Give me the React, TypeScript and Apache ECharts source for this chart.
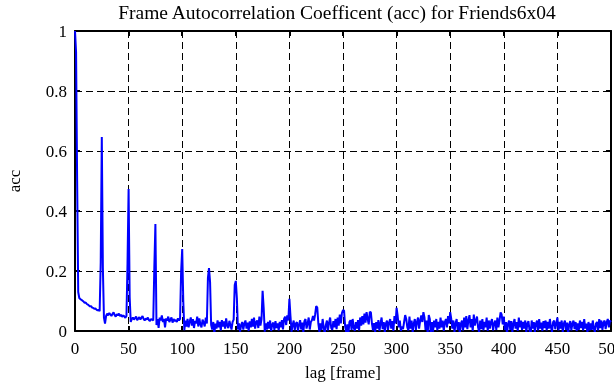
import React, { useEffect, useRef } from "react";
import * as echarts from "echarts";

const TITLE = "Frame Autocorrelation Coefficent (acc) for Friends6x04";
const X_NAME = "lag [frame]";
const Y_NAME = "acc";
const X_MIN = 0;
const X_MAX = 500;
const X_STEP = 50;
const Y_MIN = 0;
const Y_MAX = 1;
const Y_STEP = 0.2;

// acc values, index = lag in frames
const acc000 = [
  1.0, 0.93, 0.5, 0.13, 0.11, 0.106, 0.104, 0.101, 0.098, 0.094, 0.095, 0.09, 0.088, 0.085, 0.082, 0.083, 0.078, 0.077, 0.074, 0.075, 0.071, 0.069, 0.07, 0.066, 0.23,
  0.647, 0.21, 0.045, 0.025, 0.05, 0.058, 0.052, 0.06, 0.055, 0.05, 0.057, 0.062, 0.053, 0.048, 0.056, 0.052, 0.058, 0.05, 0.054, 0.047, 0.052, 0.049, 0.044, 0.05, 0.227,
  0.473, 0.113, 0.03, 0.04, 0.045, 0.038, 0.043, 0.048, 0.036, 0.041, 0.046, 0.038, 0.044, 0.05, 0.04, 0.035, 0.042, 0.038, 0.045, 0.036, 0.033, 0.04, 0.038, 0.035, 0.213,
  0.357, 0.02, 0.04, 0.01, 0.045, 0.035, 0.052, 0.03, 0.04, 0.012, 0.042, 0.035, 0.048, 0.03, 0.038, 0.045, 0.028, 0.04, 0.033, 0.037, 0.03, 0.042, 0.035, 0.04, 0.198,
];
const acc100 = [
  0.273, 0.1, 0.003, 0.035, 0.015, 0.04, 0.012, 0.032, 0.045, 0.018, 0.04, 0.01, 0.034, 0.025, 0.048, 0.015, 0.042, 0.022, 0.012, 0.038, 0.028, 0.015, 0.045, 0.025, 0.177,
  0.21, 0.163, 0.02, 0.005, 0.03, -0.008, 0.025, 0.008, 0.035, 0.012, 0.03, 0.002, 0.036, 0.015, 0.032, 0.008, 0.042, 0.018, 0.01, 0.034, 0.02, 0.005, 0.03, 0.038, 0.153,
  0.167, 0.11, 0.005, 0.025, -0.002, 0.02, 0.03, 0.005, 0.025, 0.035, 0.008, 0.028, 0.0, 0.032, 0.012, 0.04, 0.015, 0.045, 0.008, 0.03, 0.035, 0.01, 0.048, 0.018, 0.04,
  0.134, 0.077, -0.002, 0.025, 0.005, 0.03, 0.008, 0.035, 0.0, 0.022, 0.028, 0.004, 0.033, 0.01, 0.025, 0.002, 0.03, 0.012, 0.036, 0.005, 0.04, 0.048, 0.02, 0.052, 0.035,
];
const acc200 = [
  0.107, 0.05, -0.002, 0.02, 0.035, 0.003, 0.025, 0.03, 0.0, 0.022, 0.036, 0.005, 0.028, -0.004, 0.033, 0.04, 0.008, 0.025, 0.045, 0.005, 0.03, 0.036, 0.05, 0.035, 0.055,
  0.083, 0.078, 0.025, -0.003, 0.025, 0.004, 0.04, 0.012, -0.008, 0.02, 0.035, 0.002, 0.028, 0.045, 0.01, 0.004, 0.033, 0.012, 0.04, 0.006, 0.045, 0.018, 0.055, 0.025, 0.06,
  0.07, 0.068, 0.015, -0.004, 0.022, -0.012, 0.03, 0.036, 0.004, 0.04, 0.012, 0.0, 0.03, 0.008, 0.036, 0.002, 0.045, 0.018, 0.05, 0.022, 0.058, 0.028, 0.063, 0.04, 0.022,
  0.064, 0.062, 0.025, 0.002, 0.026, -0.004, 0.03, 0.008, 0.036, 0.0, 0.025, 0.045, 0.006, 0.03, -0.005, 0.025, 0.035, 0.004, 0.028, 0.04, 0.008, 0.033, 0.0, 0.05, 0.025,
];
const acc300 = [
  0.077, 0.05, 0.012, 0.035, 0.0, 0.015, 0.006, 0.03, 0.053, 0.04, 0.012, 0.002, 0.048, 0.008, 0.035, -0.004, 0.025, 0.04, 0.004, 0.03, 0.045, 0.008, 0.035, 0.052, 0.03,
  0.063, 0.045, 0.004, 0.035, -0.01, 0.053, 0.04, -0.017, 0.03, -0.002, 0.035, 0.012, 0.04, 0.002, 0.03, 0.008, 0.045, 0.012, 0.035, 0.0, 0.03, 0.04, 0.012, 0.05, 0.025,
  0.063, 0.04, 0.008, 0.035, -0.003, 0.025, 0.04, 0.004, 0.03, -0.01, 0.025, 0.035, 0.002, 0.045, 0.012, 0.05, 0.006, 0.035, 0.053, 0.012, 0.04, 0.0, 0.055, 0.018, 0.035,
  0.048, 0.012, -0.004, 0.035, 0.006, 0.04, 0.002, 0.03, 0.012, 0.045, 0.0, 0.035, 0.008, 0.03, 0.04, 0.002, 0.025, 0.035, 0.004, 0.045, 0.012, 0.035, 0.062, 0.055, 0.022,
];
const acc400 = [
  0.048, 0.004, 0.03, -0.01, 0.025, 0.035, 0.004, 0.033, -0.003, 0.025, 0.04, 0.008, 0.03, 0.0, 0.045, 0.012, 0.035, 0.004, 0.03, 0.008, 0.035, -0.004, 0.025, 0.033, 0.002,
  -0.015, 0.035, 0.008, 0.03, -0.004, 0.025, 0.035, 0.002, 0.04, 0.008, 0.028, 0.0, 0.033, 0.01, 0.035, 0.002, 0.03, 0.008, 0.04, 0.012, -0.003, 0.03, 0.035, 0.006, 0.025,
  0.045, 0.002, 0.03, 0.008, 0.035, -0.004, 0.025, 0.035, 0.004, 0.028, -0.01, 0.022, 0.033, 0.002, 0.025, 0.035, 0.006, 0.03, 0.0, 0.025, 0.004, 0.035, 0.01, 0.03, 0.002,
  0.04, 0.008, 0.025, -0.004, 0.03, 0.002, 0.025, 0.004, 0.035, 0.008, -0.003, 0.025, 0.03, 0.002, 0.04, 0.01, 0.035, 0.004, 0.028, 0.035, 0.006, 0.03, 0.04, 0.012, 0.035,
];
const acc500 = [0.03];

const FONT = "'Liberation Serif', 'Times New Roman', serif";

export default function App() {
  const ref = useRef<HTMLDivElement>(null);
  useEffect(() => {
    const chart = echarts.init(ref.current as HTMLDivElement, undefined, { renderer: "svg" });
    const values = [...acc000, ...acc100, ...acc200, ...acc300, ...acc400, ...acc500];
    const data = values.map((v, i) => [i, v]);
    const axisLine = { show: true, onZero: false, lineStyle: { color: "#000", width: 2 } };
    const axisTick = { show: true, inside: true, length: 5, lineStyle: { color: "#000", width: 2 } };
    const splitLine = { show: true, lineStyle: { color: "#000", width: 1, type: [7, 4] } };
    const labelStyle = { color: "#000", fontFamily: FONT, fontSize: 17 };
    chart.setOption({
      animation: false,
      graphic: [
        {
          type: "text",
          x: 337,
          y: 12,
          style: {
            text: TITLE,
            fill: "#000",
            font: `19.5px ${FONT}`,
            textAlign: "center",
            textVerticalAlign: "middle",
          },
        },
      ],
      grid: { left: 75, right: 3, top: 31, bottom: 54, containLabel: false, outerBoundsMode: "none" },
      xAxis: [
        {
          type: "value",
          min: X_MIN,
          max: X_MAX,
          interval: X_STEP,
          position: "bottom",
          axisLine,
          axisTick,
          splitLine,
          axisLabel: { ...labelStyle, margin: 9, showMinLabel: true, showMaxLabel: true },
          name: X_NAME,
          nameLocation: "middle",
          nameGap: 33,
          nameTextStyle: labelStyle,
        },
        {
          type: "value",
          min: X_MIN,
          max: X_MAX,
          interval: X_STEP,
          position: "top",
          axisLine,
          axisTick,
          splitLine: { show: false },
          axisLabel: { show: false },
        },
      ],
      yAxis: [
        {
          type: "value",
          min: Y_MIN,
          max: Y_MAX,
          interval: Y_STEP,
          position: "left",
          axisLine,
          axisTick,
          splitLine,
          axisLabel: { ...labelStyle, margin: 8 },
          name: Y_NAME,
          nameLocation: "middle",
          nameRotate: 90,
          nameGap: 52,
          nameTextStyle: labelStyle,
        },
        {
          type: "value",
          min: Y_MIN,
          max: Y_MAX,
          interval: Y_STEP,
          position: "right",
          axisLine,
          axisTick,
          splitLine: { show: false },
          axisLabel: { show: false },
        },
      ],
      series: [
        {
          type: "line",
          data,
          xAxisIndex: 0,
          yAxisIndex: 0,
          symbol: "none",
          showSymbol: false,
          lineStyle: { color: "#0000ff", width: 2 },
          itemStyle: { color: "#0000ff" },
          clip: true,
          z: 5,
        },
      ],
    });
    return () => chart.dispose();
  }, []);
  return <div ref={ref} style={{ position: "fixed", left: 0, top: 0, width: 614, height: 385 }} />;
}
